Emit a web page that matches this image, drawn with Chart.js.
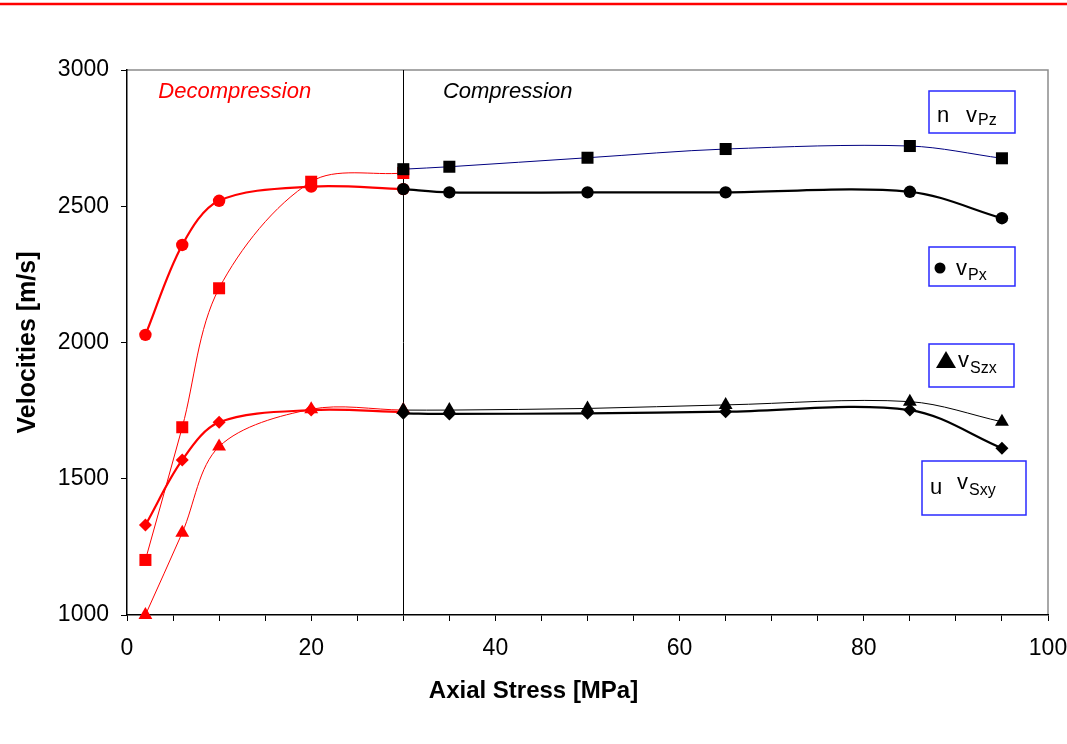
<!DOCTYPE html>
<html>
<head>
<meta charset="utf-8">
<script src="https://cdn.jsdelivr.net/npm/chart.js@4/dist/chart.umd.min.js"></script>
<style>
  html, body { margin: 0; padding: 0; background: #fff; }
  canvas { display: block; }
</style>
</head>
<body>
<canvas id="velocityChart" width="1067" height="744"></canvas>
<script>
// Axial stress steps [MPa]
const stressDecomp = [2, 6, 10, 20, 30];
const stressComp = [30, 35, 50, 65, 85, 95];

// Velocities [m/s], decompression branch
const vPzDecomp = [1202, 1689, 2199, 2590, 2622];
const vPxDecomp = [2028, 2358, 2520, 2572, 2563];
const vSzxDecomp = [1000, 1302, 1618, 1755, 1752];
const vSxyDecomp = [1330, 1569, 1707, 1752, 1745];

// Velocities [m/s], compression branch
const vPzComp = [2636, 2645, 2678, 2710, 2721, 2676];
const vPxComp = [2563, 2551, 2551, 2551, 2553, 2456];
const vSzxComp = [1752, 1752, 1758, 1771, 1783, 1709];
const vSxyComp = [1740, 1738, 1740, 1746, 1752, 1612];

const xTicks = [0, 20, 40, 60, 80, 100];
const yTicks = [1000, 1500, 2000, 2500, 3000];
const boundaryStress = 30;

const FONT = '"Liberation Sans", Arial, sans-serif';

function pts(xs, ys) {
  return xs.map((x, i) => ({ x: x, y: ys[i] }));
}

function series(label, xs, ys, color, lineColor, width, shape, radius) {
  return {
    label: label,
    data: pts(xs, ys),
    borderColor: lineColor,
    borderWidth: width,
    backgroundColor: color,
    pointBackgroundColor: color,
    pointBorderColor: color,
    pointBorderWidth: 0,
    pointStyle: shape,
    pointRadius: radius,
    tension: 0.33,
    clip: false
  };
}

// frame, stage labels, axis title, boundary line and the boxed keys
const decorations = {
  id: 'decorations',
  beforeDraw(chart) {
    const ctx = chart.ctx;
    const a = chart.chartArea;
    ctx.save();
    ctx.strokeStyle = '#ff0000';
    ctx.lineWidth = 2.5;
    ctx.beginPath();
    ctx.moveTo(0, 4);
    ctx.lineTo(chart.width, 4);
    ctx.stroke();
    ctx.strokeStyle = '#8c8c8c';
    ctx.lineWidth = 1.5;
    ctx.beginPath();
    ctx.moveTo(a.left, a.top);
    ctx.lineTo(a.right, a.top);
    ctx.lineTo(a.right, a.bottom);
    ctx.stroke();
    ctx.restore();
  },
  beforeDatasetsDraw(chart) {
    const ctx = chart.ctx;
    const a = chart.chartArea;
    const x = chart.scales.x.getPixelForValue(boundaryStress);
    ctx.save();
    ctx.strokeStyle = '#000';
    ctx.lineWidth = 1;
    ctx.beginPath();
    ctx.moveTo(Math.round(x) + 0.5, a.top);
    ctx.lineTo(Math.round(x) + 0.5, a.bottom);
    ctx.stroke();
    ctx.restore();
  },
  afterDraw(chart) {
    const ctx = chart.ctx;
    const sx = chart.scales.x;
    const sy = chart.scales.y;
    ctx.save();

    // x axis title is centred on the whole figure, not on the plot
    ctx.textAlign = 'center';
    ctx.textBaseline = 'middle';
    ctx.fillStyle = '#000';
    ctx.font = 'bold 24px ' + FONT;
    ctx.fillText('Axial Stress [MPa]', chart.width / 2, 691);

    ctx.textAlign = 'left';
    ctx.font = 'italic 22px ' + FONT;
    ctx.fillStyle = '#ff0000';
    ctx.fillText('Decompression', sx.getPixelForValue(3.4), sy.getPixelForValue(2920));
    ctx.fillStyle = '#000';
    ctx.fillText('Compression', sx.getPixelForValue(34.3), sy.getPixelForValue(2920));

    const keys = [
      { x: 929, y: 91, w: 86, h: 42, sym: 'n', symX: 937, symY: 122, vX: 966, vY: 122, sub: 'Pz', subY: 125 },
      { x: 929, y: 247, w: 86, h: 39, sym: 'dot', symX: 940, symY: 268, vX: 956, vY: 275, sub: 'Px', subY: 280 },
      { x: 929, y: 344, w: 85, h: 43, sym: 'tri', symX: 946, symY: 360, vX: 958, vY: 367, sub: 'Szx', subY: 373 },
      { x: 922, y: 461, w: 104, h: 54, sym: 'u', symX: 930, symY: 494, vX: 957, vY: 489, sub: 'Sxy', subY: 495 }
    ];
    ctx.textBaseline = 'alphabetic';
    keys.forEach(k => {
      ctx.fillStyle = '#fff';
      ctx.fillRect(k.x, k.y, k.w, k.h);
      ctx.strokeStyle = '#2a2aff';
      ctx.lineWidth = 1.5;
      ctx.strokeRect(k.x, k.y, k.w, k.h);
      ctx.fillStyle = '#000';
      if (k.sym === 'dot') {
        ctx.beginPath();
        ctx.arc(k.symX, k.symY, 5.5, 0, Math.PI * 2);
        ctx.fill();
      } else if (k.sym === 'tri') {
        ctx.beginPath();
        ctx.moveTo(k.symX, k.symY - 9);
        ctx.lineTo(k.symX + 10, k.symY + 8);
        ctx.lineTo(k.symX - 10, k.symY + 8);
        ctx.closePath();
        ctx.fill();
      } else {
        ctx.font = '22px ' + FONT;
        ctx.fillText(k.sym, k.symX, k.symY);
      }
      ctx.font = '22px ' + FONT;
      ctx.fillText('v', k.vX, k.vY);
      const vw = ctx.measureText('v').width;
      ctx.font = '16px ' + FONT;
      ctx.fillText(k.sub, k.vX + vw + 1, k.subY);
    });
    ctx.restore();
  }
};

const ctx = document.getElementById('velocityChart').getContext('2d');

new Chart(ctx, {
  type: 'line',
  data: {
    datasets: [
      series('vPz', stressComp, vPzComp, '#000', '#000080', 1, 'rect', 8.5),
      series('vPx', stressComp, vPxComp, '#000', '#000', 2.2, 'circle', 6.2),
      series('vSzx', stressComp, vSzxComp, '#000', '#000', 1, 'triangle', 8),
      series('vSxy', stressComp, vSxyComp, '#000', '#000', 2.2, 'rectRot', 6.5),
      series('vPz decompression', stressDecomp, vPzDecomp, '#ff0000', '#ff0000', 1, 'rect', 8.5),
      series('vPx decompression', stressDecomp, vPxDecomp, '#ff0000', '#ff0000', 2.2, 'circle', 6.2),
      series('vSzx decompression', stressDecomp, vSzxDecomp, '#ff0000', '#ff0000', 1, 'triangle', 8),
      series('vSxy decompression', stressDecomp, vSxyDecomp, '#ff0000', '#ff0000', 2.2, 'rectRot', 6.5)
    ]
  },
  options: {
    responsive: false,
    animation: false,
    devicePixelRatio: 1,
    layout: { padding: { top: 70, right: 19, left: 0, bottom: 0 } },
    plugins: {
      legend: { display: false },
      tooltip: { enabled: false }
    },
    scales: {
      x: {
        type: 'linear',
        min: 0,
        max: 100,
        afterFit(scale) {
          scale.height = 129;
          scale.paddingLeft = 0;
          scale.paddingRight = 0;
        },
        ticks: {
          stepSize: 5,
          autoSkip: false,
          maxRotation: 0,
          padding: 14,
          color: '#000',
          font: { family: FONT, size: 23 },
          callback: v => (xTicks.includes(v) ? String(v) : '')
        },
        grid: { drawOnChartArea: false, drawTicks: true, tickLength: 6, color: '#000' },
        border: { color: '#000', width: 1.5 }
      },
      y: {
        type: 'linear',
        min: 1000,
        max: 3000,
        afterFit(scale) {
          scale.width = 127;
          scale.paddingTop = 0;
          scale.paddingBottom = 0;
        },
        afterBuildTicks(scale) { scale.ticks = yTicks.map(v => ({ value: v })); },
        ticks: {
          padding: 12,
          color: '#000',
          font: { family: FONT, size: 23 },
          callback: v => String(v)
        },
        grid: { drawOnChartArea: false, drawTicks: true, tickLength: 6, color: '#000' },
        border: { color: '#000', width: 1.5 },
        title: {
          display: true,
          text: 'Velocities [m/s]',
          color: '#000',
          font: { family: FONT, size: 25, weight: 'bold' },
          padding: { top: 13, bottom: 0 }
        }
      }
    }
  },
  plugins: [decorations]
});
</script>
</body>
</html>
